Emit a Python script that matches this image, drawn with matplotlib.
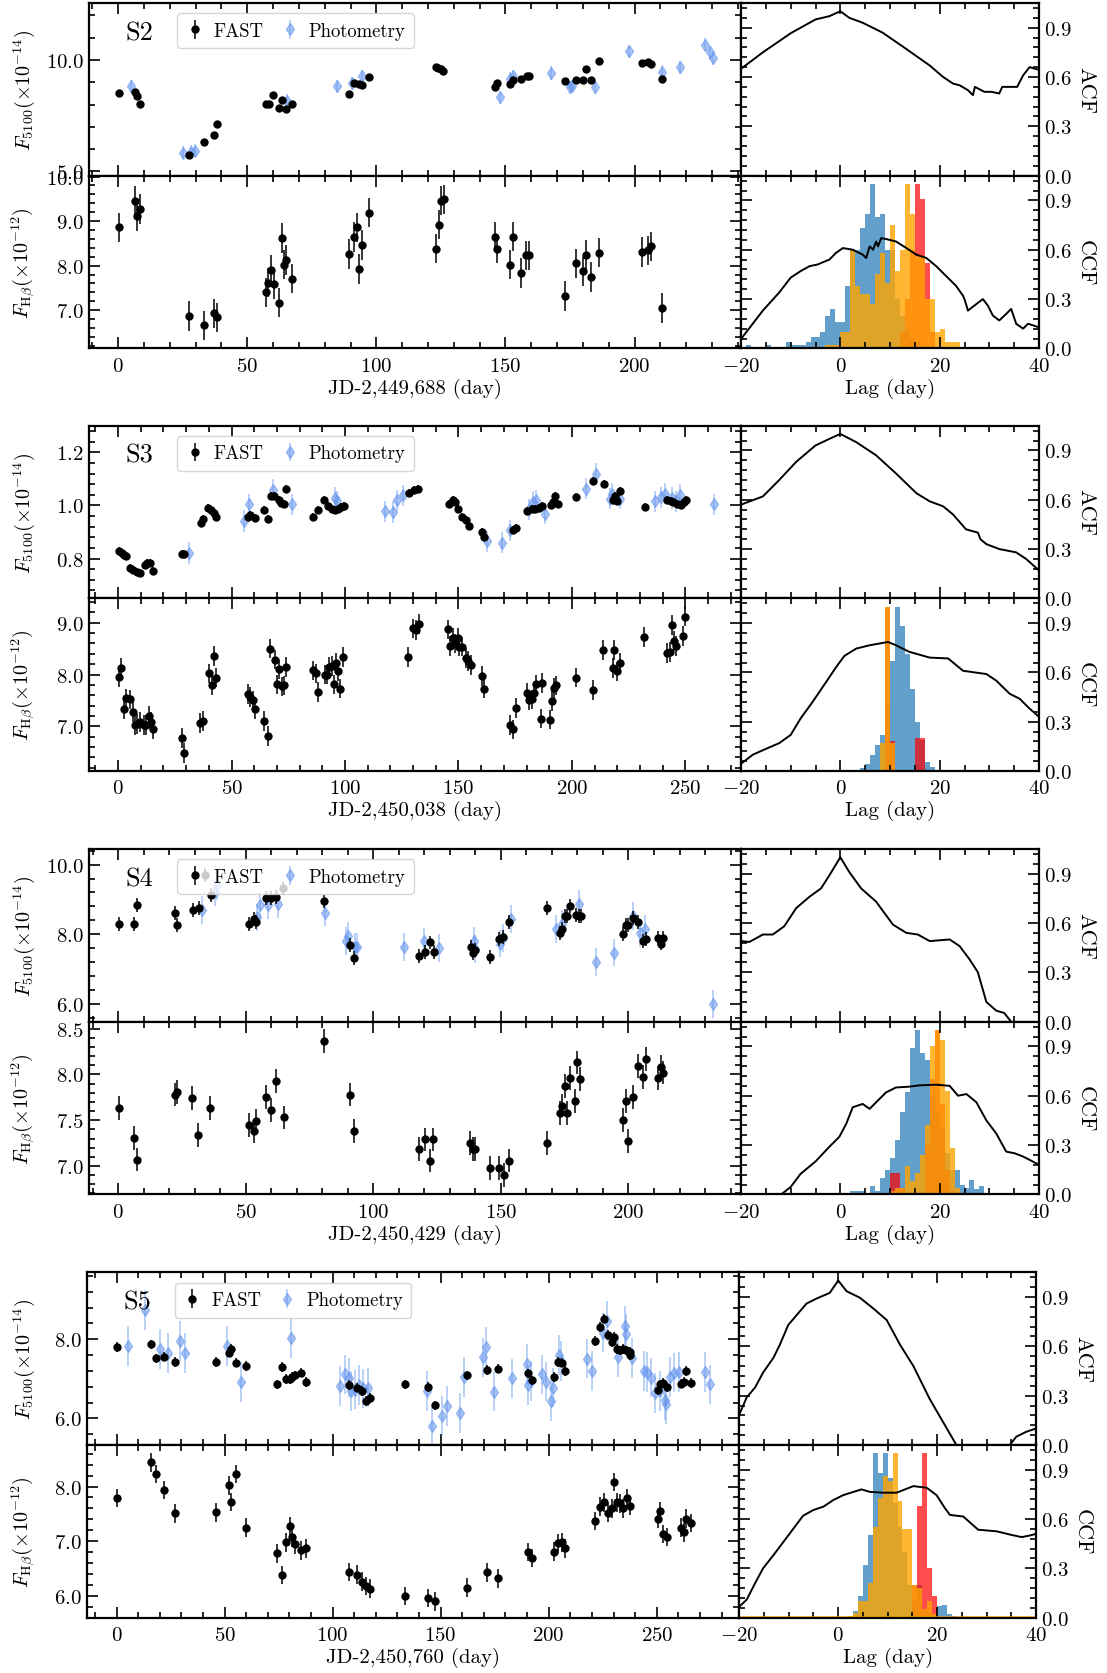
import matplotlib
matplotlib.use("Agg")
import matplotlib.pyplot as plt
import numpy as np
from matplotlib.ticker import MultipleLocator, AutoMinorLocator, FuncFormatter

plt.rcParams.update({
    "font.family": "serif",
    "font.serif": ["cmr10"],
    "mathtext.fontset": "cm",
    "axes.formatter.use_mathtext": True,
    "axes.unicode_minus": True,
    "axes.linewidth": 1.6,
})

# ---------------- season S2 ----------------
s2_fast_t = [0.4, 6.4, 7.3, 8.4, 27.5, 33.3, 37.3, 38.4, 57.3, 58.6, 60, 62.2, 63.3, 65, 67.3,
             89.3, 91.5, 93.3, 94.3, 97.2, 123, 124, 125, 125.9, 146, 146.8, 151.9, 152.8,
             155.9, 158.3, 159.2, 172.9, 177.2, 180.1, 181.2, 183, 186.3, 202.8, 205, 206.5, 210.8]
s2_fast_f = [8.5, 8.58, 8.4, 8.01, 5.76, 6.3, 6.65, 7.11, 8.04, 8.05, 8.43, 7.87, 8.2, 7.81, 8.05,
             8.49, 8.98, 8.92, 8.9, 9.25, 9.7, 9.64, 9.6, 9.5, 8.8, 8.95, 8.94, 9.09,
             9.15, 9.28, 9.28, 9.04, 9.09, 9.09, 9.6, 9.1, 9.94, 9.85, 9.91, 9.84, 9.15]
s2_phot_t = [4.8, 25.1, 28.4, 29.6, 65.3, 84.7, 90.6, 94.3, 147.9, 151.9, 152.8, 167.5, 174.8,
             175.7, 184.8, 197.7, 210.5, 217.4, 227.3, 229.3, 230.2]
s2_phot_f = [8.82, 5.85, 5.88, 5.93, 8.17, 8.82, 8.95, 9.27, 8.32, 9.15, 9.27, 9.42, 8.77,
             8.82, 8.77, 10.39, 9.48, 9.67, 10.69, 10.34, 10.07]
s2_hb_t = [0.4, 6.6, 7.3, 8.4, 27.5, 33.3, 37.3, 38.4, 57.3, 58.2, 59.3, 60.4, 62.4, 63.3, 64.4,
           65.2, 67.3, 89.3, 91.3, 92.4, 93.2, 94.3, 97.2, 123, 124.1, 125.2, 126.1, 146, 146.8,
           151.9, 153, 155.9, 158.1, 159, 172.9, 177.2, 180.1, 181.2, 183, 186.1, 202.8, 205.2,
           206.3, 210.8]
s2_hb_f = [8.86, 9.46, 9.11, 9.27, 6.87, 6.66, 6.93, 6.84, 7.4, 7.62, 7.9, 7.59, 7.17, 8.62, 8.02,
           8.13, 7.71, 8.26, 8.64, 8.86, 7.92, 8.46, 9.19, 8.38, 8.92, 9.46, 9.49, 8.64, 8.38,
           8.02, 8.65, 7.83, 8.23, 8.23, 7.32, 8.05, 7.87, 8.24, 7.74, 8.29, 8.31, 8.34,
           8.43, 7.05]
s2_acf_lag = [-20, -15.6, -10, -5, -2.2, 0, 1.8, 4.5, 8.5, 13.3, 18, 20.7, 22.7, 24, 25.7, 26.7,
              27.1, 29, 30.4, 32, 32.6, 34.6, 35.6, 36.8, 38.1, 39.8, 40]
s2_acf = [0.65, 0.75, 0.866, 0.95, 0.97, 1.0, 0.96, 0.93, 0.87, 0.77, 0.67, 0.6, 0.56, 0.55, 0.52,
          0.49, 0.54, 0.51, 0.51, 0.5, 0.54, 0.54, 0.54, 0.61, 0.66, 0.645, 0.645]
s2_ccf_lag = [-20, -15.6, -12.3, -10, -8, -6.2, -4.6, -2.2, -0.9, 0.5, 2.5, 4.5, 5.2, 5.9, 6.6, 7.2,
              7.6, 8.2, 9.2, 11.2, 13.3, 15.3, 17.3, 19.3, 21.3, 23.3, 24.7, 25.0, 25.7, 27.4,
              28.7, 29.7, 30.7, 32, 33.4, 34.4, 35.4, 36.8, 37.8, 39.8, 40]
s2_ccf = [0.057, 0.23, 0.34, 0.43, 0.47, 0.5, 0.51, 0.54, 0.58, 0.61, 0.6, 0.57, 0.55, 0.62, 0.6,
          0.65, 0.62, 0.67, 0.665, 0.65, 0.61, 0.57, 0.55, 0.5, 0.44, 0.38, 0.32, 0.3, 0.23, 0.27,
          0.3, 0.26, 0.2, 0.17, 0.21, 0.24, 0.15, 0.12, 0.15, 0.13, 0.13]
s2_blue_lo = -19
s2_blue = [0.02, 0, 0, 0, 0.02, 0, 0, 0, 0.04, 0.02, 0.02, 0.02, 0.04, 0.07, 0.07, 0.1, 0.2, 0.24,
           0.16, 0.16, 0.38, 0.6, 0.6, 0.73, 0.82, 1.0, 0.8, 0.82, 0.6, 0.6, 0.3, 0.2, 0.12, 0.06,
           0.04, 0.02, 0.01]
s2_red_lo = 12
s2_red = [0.1, 0.3, 0.6, 1.0, 0.91, 0.52, 0.1]
s2_orange_lo = -3
s2_orange = [0.02, 0.02, 0.02, 0.1, 0.1, 0.6, 0.38, 0.33, 0.33, 0.27, 0.45, 0.58, 0.4, 0.75, 0.47,
             0.6, 1.0, 0.82, 0.56, 0.56, 0.3, 0.3, 0.1, 0.12, 0.04, 0.04, 0.04]

# ---------------- season S3 ----------------
s3_fast_t = [0.4, 1.7, 2.5, 3.5, 5.4, 6.7, 8.3, 9.6, 11.7, 12.7, 14.2, 15.4, 28.1, 29.2, 36.5,
             37.5, 39.8, 41, 42.1, 43.3, 57.3, 58.3, 60.2, 64.2, 66.2, 67.5, 68.7, 70.8, 71.9,
             73.1, 73.9, 85.8, 87.9, 90.8, 92.7, 94.4, 95.8, 96.9, 98.3, 99.4, 128.1, 130.2,
             132.3, 145.8, 147.5, 148.5, 149.6, 151.4, 153.3, 154.8, 160.4, 161.4, 173.9, 175.4,
             180.2, 182.3, 183.7, 185.4, 187, 190.6, 191.6, 192.7, 193.7, 202, 209.3, 214.1,
             218.3, 219.1, 220, 221.2, 232.2, 242, 243.7, 244.7, 246.2, 247.9, 249.5, 250.4]
s3_fast_f = [0.829, 0.819, 0.813, 0.809, 0.765, 0.756, 0.75, 0.744, 0.775, 0.785, 0.785, 0.753,
             0.818, 0.818, 0.934, 0.948, 0.99, 0.981, 0.971, 0.956, 0.956, 0.963, 0.954, 0.984,
             0.95, 1.035, 1.035, 1.019, 1.01, 1.006, 1.06, 0.956, 0.984, 1.019, 0.998, 0.985,
             0.981, 0.988, 0.994, 0.998, 1.048, 1.059, 1.063, 1.006, 1.019, 1.0125, 0.985, 0.956,
             0.946, 0.923, 0.9, 0.881, 0.909, 0.915, 0.978, 0.985, 0.988, 0.99, 0.998, 1.0,
             1.0125, 1.035, 1.006, 1.031, 1.091, 1.081, 1.021, 1.035, 1.018, 1.056, 0.994,
             1.019, 1.015, 1.0125, 1.006, 1.0025, 1.0125, 1.021]
s3_phot_t = [31.2, 55.6, 57.9, 68.3, 76.6, 95.8, 96.4, 117.7, 121.2, 122.9, 125.4, 162.5, 169.1,
             172.5, 181.2, 182.7, 184.3, 188.1, 206.2, 210.8, 216.6, 217.7, 221.2, 236.4, 239.1,
             241.2, 244.1, 245.8, 247.5, 262.4]
s3_phot_f = [0.821, 0.941, 1.004, 1.059, 1.004, 1.029, 1.016, 0.978, 0.975, 1.019, 1.038, 0.865,
             0.86, 0.906, 0.985, 1.0125, 1.019, 0.969, 1.0625, 1.119, 1.025, 1.044, 1.025, 1.015,
             1.031, 1.044, 1.0275, 1.015, 1.04, 1.004]
s3_hb_t = [0.4, 1.5, 2.5, 3.5, 5.4, 6.5, 7.5, 8.5, 9.6, 11.5, 12.5, 13.5, 14.6, 15.4, 28.1, 29.2,
           36.2, 37.3, 40.2, 41.2, 42.3, 43.3, 57.3, 58.3, 59.4, 60.4, 64.2, 66.2, 67.1, 69.2,
           70.2, 71, 72.1, 73.1, 74.2, 86, 87.1, 87.9, 91.2, 92.1, 93.1, 94.1, 95, 96, 96.9, 97.9,
           98.9, 127.9, 129.8, 131.4, 132.5, 145.2, 146.4, 147.5, 148.5, 149.6, 150.4, 151.4,
           153.3, 154.3, 155.4, 160.4, 161.4, 172.9, 174.1, 175.2, 180.2, 181.2, 182.3, 183.1,
           184.1, 186.2, 187, 190.2, 191.2, 192.3, 193.1, 201.6, 209.1, 213.9, 217.9, 218.7,
           219.9, 221, 231.9, 242, 243.1, 243.9, 244.9, 246, 248.9, 249.9]
s3_hb_f = [7.95, 8.12, 7.34, 7.54, 7.52, 7.28, 7.03, 7.05, 7.08, 7.03, 7.03, 7.2, 7.08, 6.95, 6.77,
           6.48, 7.07, 7.1, 8.02, 7.79, 8.36, 7.94, 7.63, 7.57, 7.5, 7.34, 7.1, 6.81, 8.5, 8.29,
           7.81, 8.1, 7.77, 7.79, 8.14, 8.08, 8.02, 7.66, 8.0, 8.0, 8.15, 8.17, 7.81, 8.23, 8.06,
           7.73, 8.34, 8.34, 8.89, 8.86, 8.97, 8.87, 8.55, 8.7, 8.6, 8.7, 8.54, 8.54, 8.32, 8.26,
           8.19, 7.97, 7.73, 7.02, 6.94, 7.36, 7.65, 7.5, 7.52, 7.65, 7.81, 7.15, 7.84, 7.13,
           7.49, 7.74, 7.79, 7.94, 7.7, 8.47, 8.12, 8.47, 8.06, 8.23, 8.73, 8.42, 8.44, 8.95,
           8.65, 8.55, 8.75, 9.12]
s3_acf_lag = [-20, -15.6, -12.3, -8.9, -5, -2.2, 0, 3.2, 7.2, 11.2, 15.3, 18, 20.7, 22.7, 25.3,
              27.7, 28.2, 29.4, 32, 35.4, 37.4, 40]
s3_acf = [0.57, 0.62, 0.72, 0.83, 0.93, 0.97, 1.0, 0.95, 0.87, 0.76, 0.64, 0.59, 0.56, 0.51, 0.42,
          0.4, 0.36, 0.33, 0.3, 0.28, 0.24, 0.17]
s3_ccf_lag = [-20, -17.6, -15, -12.3, -10, -8, -5.6, -2.9, -0.9, 0.8, 3.2, 5.9, 9.6, 11.2, 13.9,
              18, 21.7, 24.7, 29.4, 31.4, 34.1, 36.1, 38.1, 40]
s3_ccf = [0.045, 0.1, 0.135, 0.17, 0.22, 0.32, 0.42, 0.54, 0.63, 0.7, 0.745, 0.765, 0.785, 0.765,
          0.725, 0.69, 0.685, 0.61, 0.59, 0.55, 0.47, 0.44, 0.38, 0.33]
s3_blue_lo = 4
s3_blue = [0.02, 0.045, 0.1, 0.16, 0.22, 0.4, 0.67, 1.0, 0.88, 0.71, 0.5, 0.3, 0.19, 0.055, 0.025,
           0.005, 0.005]
s3_red_lo = 9
s3_red = [1.0, 0.18, 0, 0, 0, 0, 0.2, 0.2]
s3_orange_lo = 8
s3_orange = [0.17, 1.0, 0.17]

# ---------------- season S4 ----------------
s4_fast_t = [0.4, 6.3, 7.4, 22.2, 23.1, 29.3, 31.5, 33.9, 36.3, 51.1, 53.1, 54.1, 58, 59.8, 62,
             64.8, 80.7, 90.7, 92.6, 118.1, 120.4, 122.2, 123.7, 138.1, 139.1, 140, 145.9, 149.1,
             150.9, 153.1, 168, 173.1, 174.1, 175.2, 175.9, 176.9, 179.3, 180.6, 181.5, 197.8,
             198.9, 200, 201.9, 203.7, 205.6, 206.9, 211.5, 212.6, 213.7]
s4_fast_f = [8.28, 8.3, 8.83, 8.6, 8.26, 8.7, 8.75, 9.7, 9.13, 8.28, 8.44, 8.35, 9.03, 9.03, 9.06,
             9.34, 8.94, 7.68, 7.31, 7.38, 7.49, 7.76, 7.49, 7.62, 7.47, 7.54, 7.35, 7.86, 7.92,
             8.36, 8.75, 8.03, 8.16, 8.51, 8.53, 8.8, 8.55, 8.53, 8.51, 8.0, 8.26, 8.26, 8.46,
             8.36, 7.81, 7.86, 7.9, 7.73, 7.88]
s4_phot_t = [33, 38, 38.9, 54.6, 55.6, 58.9, 62.6, 81.1, 89.3, 90.2, 93, 93.5, 112, 120, 125.9,
             139.4, 139.8, 149.6, 150.9, 154.1, 171.5, 174.1, 180.6, 187.4, 194.4, 201.9, 204.6,
             206.5, 233.3]
s4_phot_f = [8.7, 9.2, 9.39, 8.48, 8.83, 8.83, 8.86, 8.62, 7.81, 7.95, 7.64, 7.62, 7.62, 7.79,
             7.59, 7.81, 7.57, 7.73, 7.88, 8.43, 8.14, 8.29, 8.88, 7.2, 7.47, 8.53, 8.03, 8.16,
             6.0]
s4_hb_t = [0.4, 6.3, 7.4, 22.2, 23.1, 29.1, 31.1, 36.1, 51.1, 53.1, 54.1, 58, 59.8, 61.9, 65,
           80.7, 90.7, 92.6, 118.1, 120.4, 122.2, 123.5, 138, 138.9, 140, 145.9, 149.1, 151.1,
           153.1, 168, 173, 173.9, 175, 175.9, 176.9, 178.9, 179.8, 180.9, 197.8, 198.9, 199.8,
           201.9, 203.9, 205.7, 206.9, 211.7, 212.6, 213.7]
s4_hb_f = [7.63, 7.31, 7.07, 7.78, 7.81, 7.74, 7.34, 7.63, 7.45, 7.38, 7.49, 7.75, 7.61, 7.93, 7.53,
           8.36, 7.78, 7.38, 7.19, 7.29, 7.06, 7.29, 7.25, 7.19, 7.19, 6.98, 6.98, 6.9, 7.06, 7.25,
           7.58, 7.66, 7.87, 7.58, 7.96, 7.71, 8.13, 7.95, 7.5, 7.71, 7.27, 7.75, 8.09, 7.97, 8.17,
           7.96, 8.08, 8.02]
s4_acf_lag = [-20, -18.3, -15.6, -13.6, -11.3, -8.9, -6.2, -3.9, -2.2, 0, 1.8, 4.2, 7.2, 10.6, 13.3,
              15.6, 18, 22, 24, 26, 27.7, 29.4, 31.4, 33, 34.4, 36, 40]
s4_acf = [0.49, 0.485, 0.53, 0.53, 0.58, 0.69, 0.76, 0.81, 0.89, 1.0, 0.91, 0.81, 0.73, 0.59, 0.54,
          0.53, 0.49, 0.5, 0.46, 0.38, 0.3, 0.12, 0.067, 0.053, 0.0, -0.05, -0.1]
s4_ccf_lag = [-20, -11.9, -10, -8, -5, -2.2, -0.2, 1.2, 2.5, 4.5, 5.9, 7.2, 9.2, 11.2, 13.9, 15.9,
              19.3, 22, 23.7, 25.4, 27.4, 29.4, 31.4, 33.4, 35.1, 36.8, 38.1, 40]
s4_ccf = [-0.2, 0.0, 0.045, 0.125, 0.2, 0.29, 0.35, 0.43, 0.53, 0.55, 0.52, 0.56, 0.62, 0.65,
          0.655, 0.663, 0.667, 0.66, 0.6, 0.61, 0.56, 0.45, 0.37, 0.26, 0.25, 0.23, 0.21, 0.18]
s4_blue_lo = 2
s4_blue = [0.02, 0.02, 0.02, 0.01, 0.05, 0.02, 0.1, 0.15, 0.22, 0.33, 0.5, 0.62, 0.89, 1.0, 0.86,
           0.82, 0.6, 0.5, 0.4, 0.25, 0.15, 0.15, 0.06, 0.04, 0.09, 0.03, 0.05]
s4_red_lo = 10
s4_red = [0.13, 0.13, 0.04, 0, 0, 0, 0, 0.3, 0.7, 1.0, 0.55, 0.15, 0.02]
s4_orange_lo = 10
s4_orange = [0.02, 0.04, 0.04, 0.17, 0.08, 0.13, 0.24, 0.42, 0.9, 1.0, 0.94, 0.63, 0.28, 0.04, 0.01]

# ---------------- season S5 ----------------
s5_fast_t = [0, 15.9, 18.1, 22, 27.1, 46, 52.1, 53, 55.2, 60, 74.2, 76.4, 78.3, 80.3, 81.4, 82.5,
             85.3, 87.5, 107.6, 111.1, 113.5, 115.3, 117.2, 133.3, 144.2, 147.3, 162.1, 171.3,
             176.5, 190.5, 192.2, 202.5, 204.2, 206.2, 207.5, 221.5, 223.7, 225.4, 227.6, 229.4,
             230.2, 231.5, 233, 234.6, 235.9, 237.4, 237.8, 250.5, 251.6, 252.7, 254.9, 261.4,
             262.5, 263.6, 265.8]
s5_fast_f = [7.81, 7.87, 7.52, 7.56, 7.42, 7.43, 7.66, 7.75, 7.41, 7.32, 6.86, 7.3, 6.99, 6.99,
             7.05, 7.09, 7.16, 6.92, 6.84, 6.78, 6.69, 6.44, 6.52, 6.86, 6.8, 6.33, 7.09, 7.22,
             7.26, 7.14, 6.96, 7.05, 7.43, 7.41, 7.2, 7.96, 8.31, 8.52, 8.11, 7.93, 8.06, 7.75,
             7.72, 7.75, 7.72, 7.68, 7.6, 6.71, 6.86, 6.9, 6.79, 6.88, 6.93, 7.2, 6.9]
s5_phot_t = [5.5, 13.3, 20.3, 23.6, 29.5, 31.6, 51.3, 57.8, 80.7, 103.6, 105.8, 107.6, 108.7, 110.2,
             112, 114.2, 116.3, 143.6, 145.8, 150.8, 153, 158.8, 161, 169.8, 170.9, 174.8, 182.9,
             190.1, 190.5, 191.6, 197, 198.8, 201, 201.8, 204.7, 205.8, 217.8, 220, 225, 227.1,
             231.9, 235.2, 235.9, 238.5, 244, 245.5, 247.2, 249, 251.6, 253.8, 254.2, 256, 258.1,
             260.3, 272.3, 274.5]
s5_phot_f = [7.83, 8.74, 7.76, 7.66, 7.96, 7.66, 7.83, 6.92, 8.03, 6.82, 7.11, 7.03, 6.69, 6.73,
             6.84, 6.76, 6.78, 6.69, 5.81, 6.06, 6.31, 6.14, 7.05, 7.54, 7.81, 6.68, 7.01, 7.38,
             6.84, 6.95, 7.11, 6.93, 6.44, 6.78, 7.6, 7.45, 7.51, 7.2, 8.17, 8.46, 7.54, 8.34,
             8.14, 7.52, 7.2, 7.18, 7.03, 6.65, 6.69, 6.46, 6.37, 7.05, 7.16, 7.18, 7.18, 6.86]
s5_hb_t = [0, 15.9, 18.1, 22, 27.1, 46, 52.1, 53, 55.2, 60, 74.2, 76.4, 78.3, 80.3, 81.4, 82.5,
           85.3, 87.5, 107.6, 111.1, 113.5, 115.3, 117.2, 133.3, 144.2, 147.3, 162.1, 171.3, 176.5,
           190.5, 192.2, 202.5, 204.2, 206.2, 207.5, 221.5, 223.7, 225.4, 227.6, 229.4, 230.2,
           231.5, 233, 234.6, 236.3, 237.4, 250.5, 251.6, 252.7, 254.9, 261.4, 262.5, 263.6, 265.8]
s5_hb_f = [7.79, 8.44, 8.23, 7.94, 7.51, 7.53, 8.02, 7.72, 8.23, 7.25, 6.78, 6.38, 6.98, 7.28, 7.07,
           6.94, 6.83, 6.87, 6.44, 6.39, 6.26, 6.18, 6.13, 6.0, 5.96, 5.9, 6.15, 6.43, 6.32, 6.8,
           6.69, 6.81, 6.96, 6.98, 6.87, 7.37, 7.63, 7.71, 7.52, 7.6, 8.08, 7.71, 7.69, 7.6, 7.79,
           7.65, 7.41, 7.55, 7.13, 7.08, 7.25, 7.16, 7.41, 7.33]
s5_acf_lag = [-20, -18.5, -16.8, -15.2, -13.1, -11.8, -10.1, -8.4, -6.4, -4.4, -1.7, 0, 1.7, 4.4,
              7.1, 9.8, 12.5, 15.2, 18.5, 21.2, 23.9, 27, 31, 34.7, 36, 38, 40]
s5_acf = [0.185, 0.29, 0.35, 0.44, 0.53, 0.61, 0.73, 0.79, 0.86, 0.89, 0.925, 1.0, 0.935, 0.895,
          0.83, 0.76, 0.61, 0.48, 0.28, 0.14, 0.0, -0.08, -0.06, 0.0, 0.05, 0.08, 0.1]
s5_ccf_lag = [-20, -18.5, -16.8, -15.2, -13.1, -11.1, -9.1, -7.1, -5, -3, -1, 1, 3.1, 4.7, 6.4, 9.1,
              11.8, 15.2, 17.9, 19.9, 21.6, 22.6, 25.3, 28.3, 32.1, 34.8, 37.1, 38.8, 40]
s5_ccf = [0.067, 0.11, 0.21, 0.3, 0.38, 0.46, 0.54, 0.62, 0.655, 0.675, 0.715, 0.745, 0.765, 0.78,
          0.765, 0.76, 0.76, 0.8, 0.79, 0.745, 0.665, 0.625, 0.615, 0.535, 0.525, 0.505, 0.49,
          0.5, 0.51]
s5_blue_lo = 3
s5_blue = [0.04, 0.13, 0.32, 0.5, 1.0, 0.88, 1.0, 0.85, 0.7, 0.55, 0.4, 0.2, 0.1, 0.2, 0.05, 0.03,
           0.02, 0.07, 0.08, 0.02, 0.01]
s5_red_lo = 15
s5_red = [0.2, 0.68, 1.0, 0.3, 0.13]
s5_orange_lo = 2
s5_orange = [0.01, 0.03, 0.1, 0.1, 0.21, 0.55, 0.73, 0.86, 0.83, 1.0, 0.71, 0.54, 0.54, 0.2, 0.18,
             0.05, 0.1, 0.02]

seasons = [
    dict(name="S2", jd="JD-2,449,688 (day)", top=4.0, cols=(88.8, 741.0, 1039.0),
         xlim=(-11.35, 241.2), clim=(4.81, 12.56), cstep=5.0, hlim=(6.14, 10.02), hstep=1.0,
         fast=(s2_fast_t, s2_fast_f, 0.1), phot=(s2_phot_t, s2_phot_f, 0.3),
         hb=(s2_hb_t, s2_hb_f, 0.33), acf=(s2_acf_lag, s2_acf), ccf=(s2_ccf_lag, s2_ccf),
         hists=((s2_blue_lo, s2_blue), (s2_red_lo, s2_red), (s2_orange_lo, s2_orange))),
    dict(name="S3", jd="JD-2,450,038 (day)", top=426.7, cols=(88.8, 741.0, 1039.0),
         xlim=(-12.9, 274.5), clim=(0.65, 1.30), cstep=0.2, hlim=(6.135, 9.47), hstep=1.0,
         fast=(s3_fast_t, s3_fast_f, 0.015), phot=(s3_phot_t, s3_phot_f, 0.04),
         hb=(s3_hb_t, s3_hb_f, 0.19), acf=(s3_acf_lag, s3_acf), ccf=(s3_ccf_lag, s3_ccf),
         hists=((s3_blue_lo, s3_blue), (s3_red_lo, s3_red), (s3_orange_lo, s3_orange))),
    dict(name="S4", jd="JD-2,450,429 (day)", top=850.0, cols=(88.8, 741.0, 1039.0),
         xlim=(-11.5, 244.1), clim=(5.48, 10.45), cstep=2.0, hlim=(6.69, 8.575), hstep=0.5,
         fast=(s4_fast_t, s4_fast_f, 0.2), phot=(s4_phot_t, s4_phot_f, 0.4),
         hb=(s4_hb_t, s4_hb_f, 0.13), acf=(s4_acf_lag, s4_acf), ccf=(s4_ccf_lag, s4_ccf),
         hists=((s4_blue_lo, s4_blue), (s4_red_lo, s4_red), (s4_orange_lo, s4_orange))),
    dict(name="S5", jd="JD-2,450,760 (day)", top=1273.3, cols=(86.5, 739.3, 1036.0),
         xlim=(-13.9, 288.2), clim=(5.33, 9.69), cstep=2.0, hlim=(5.6, 8.76), hstep=1.0,
         fast=(s5_fast_t, s5_fast_f, 0.12), phot=(s5_phot_t, s5_phot_f, 0.5),
         hb=(s5_hb_t, s5_hb_f, 0.17), acf=(s5_acf_lag, s5_acf), ccf=(s5_ccf_lag, s5_ccf),
         hists=((s5_blue_lo, s5_blue), (s5_red_lo, s5_red), (s5_orange_lo, s5_orange))),
]

W, H = 1107, 1674
PH = 172.7  # panel height in pixels
hist_colors = [("tab:blue", 0.7), ("red", 0.7), ("orange", 0.8)]
phot_color = "cornflowerblue"

fig = plt.figure(figsize=(W / 100, H / 100), dpi=100)


def box(x0, x1, ytop):
    return [x0 / W, 1 - (ytop + PH) / H, (x1 - x0) / W, PH / H]


def fmt1(v, pos):
    return r"$%.1f$" % v


def fmtg(v, pos):
    return r"$%g$" % v


def style(ax, labelbottom=False, right=False):
    ax.tick_params(which="both", direction="in", top=True, right=True, left=True, bottom=True,
                   labelsize=15, width=1.2)
    ax.tick_params(which="major", length=8)
    ax.tick_params(which="minor", length=4)
    ax.tick_params(axis="x", labelbottom=labelbottom, pad=6)
    if right:
        ax.tick_params(axis="y", labelleft=False, labelright=True)


for s in seasons:
    xl, xm, xr = s["cols"]
    top = s["top"]
    lab_x = -(xl - 37.0) / (xm - xl)
    ax_c = fig.add_axes(box(xl, xm, top))
    ax_h = fig.add_axes(box(xl, xm, top + PH))
    ax_a = fig.add_axes(box(xm, xr, top))
    ax_x = fig.add_axes(box(xm, xr, top + PH))

    # continuum light curve
    pt, pf, pe = s["phot"]
    ax_c.errorbar(pt, pf, yerr=pe, fmt="d", color=phot_color, alpha=0.55, ms=6, elinewidth=1.1,
                  capsize=0, label="Photometry", zorder=2)
    ft, ff, fe = s["fast"]
    ax_c.errorbar(ft, ff, yerr=fe, fmt="o", color="black", ms=5, elinewidth=1.1, capsize=0,
                  label="FAST", zorder=3)
    ax_c.set_xlim(*s["xlim"])
    ax_c.set_ylim(*s["clim"])
    ax_c.xaxis.set_major_locator(MultipleLocator(50))
    ax_c.xaxis.set_minor_locator(MultipleLocator(10))
    ax_c.yaxis.set_major_locator(MultipleLocator(s["cstep"]))
    ax_c.yaxis.set_minor_locator(AutoMinorLocator(5))
    ax_c.yaxis.set_major_formatter(FuncFormatter(fmt1))
    style(ax_c)
    ax_c.set_ylabel(r"$F_{5100}(\times10^{-14})$", fontsize=14.5)
    ax_c.yaxis.set_label_coords(lab_x, 0.5)
    ax_c.text(0.056, 0.83, s["name"], transform=ax_c.transAxes, fontsize=19, va="center")
    handles, labels = ax_c.get_legend_handles_labels()
    leg = ax_c.legend(handles[::-1], labels[::-1], loc="upper left",
                      bbox_to_anchor=(0.135, 0.94), ncol=2, fontsize=13.5, handlelength=1.0,
                      handletextpad=0.5, columnspacing=0.9, borderaxespad=0, borderpad=0.45,
                      fancybox=True, edgecolor="#cccccc", framealpha=0.8)
    leg.get_frame().set_linewidth(1.0)

    # H-beta light curve
    ht, hf, he = s["hb"]
    ax_h.errorbar(ht, hf, yerr=he, fmt="o", color="black", ms=5, elinewidth=1.1, capsize=0)
    ax_h.set_xlim(*s["xlim"])
    ax_h.set_ylim(*s["hlim"])
    ax_h.xaxis.set_major_locator(MultipleLocator(50))
    ax_h.xaxis.set_minor_locator(MultipleLocator(10))
    ax_h.yaxis.set_major_locator(MultipleLocator(s["hstep"]))
    ax_h.yaxis.set_minor_locator(AutoMinorLocator(5))
    ax_h.yaxis.set_major_formatter(FuncFormatter(fmt1))
    ax_h.xaxis.set_major_formatter(FuncFormatter(fmtg))
    style(ax_h, labelbottom=True)
    ax_h.set_ylabel(r"$F_{\rm H\beta}(\times10^{-12})$", fontsize=14.5)
    ax_h.yaxis.set_label_coords(lab_x, 0.5)
    ax_h.set_xlabel(s["jd"], fontsize=15, labelpad=2)

    # ACF
    ax_a.plot(s["acf"][0], s["acf"][1], color="black", lw=1.4)

    # CCF with lag distributions
    for (lo, heights), (col, alpha) in zip(s["hists"], hist_colors):
        edges = lo + np.arange(len(heights))
        ax_x.bar(edges, heights, width=1.0, align="edge", color=col, alpha=alpha, linewidth=0)
    ax_x.axhline(0.003, color="orange", alpha=0.8, lw=2)
    ax_x.plot(s["ccf"][0], s["ccf"][1], color="black", lw=1.4)

    for ax, lab in ((ax_a, "ACF"), (ax_x, "CCF")):
        ax.set_xlim(-20, 40)
        ax.set_ylim(0, 1.05)
        ax.xaxis.set_major_locator(MultipleLocator(20))
        ax.xaxis.set_minor_locator(MultipleLocator(5))
        ax.yaxis.set_major_locator(MultipleLocator(0.3))
        ax.yaxis.set_minor_locator(MultipleLocator(0.06))
        ax.yaxis.set_major_formatter(FuncFormatter(fmt1))
        ax.xaxis.set_major_formatter(FuncFormatter(fmtg))
        style(ax, labelbottom=(ax is ax_x), right=True)
        ax.set_ylabel(lab, fontsize=16, rotation=270, va="center", ha="center",
                      rotation_mode="default")
        ax.yaxis.set_label_position("right")
        ax.yaxis.set_label_coords(1.19, 0.5)
    ax_x.set_xlabel("Lag (day)", fontsize=15, labelpad=2)

fig.savefig("out.png", dpi=100)
